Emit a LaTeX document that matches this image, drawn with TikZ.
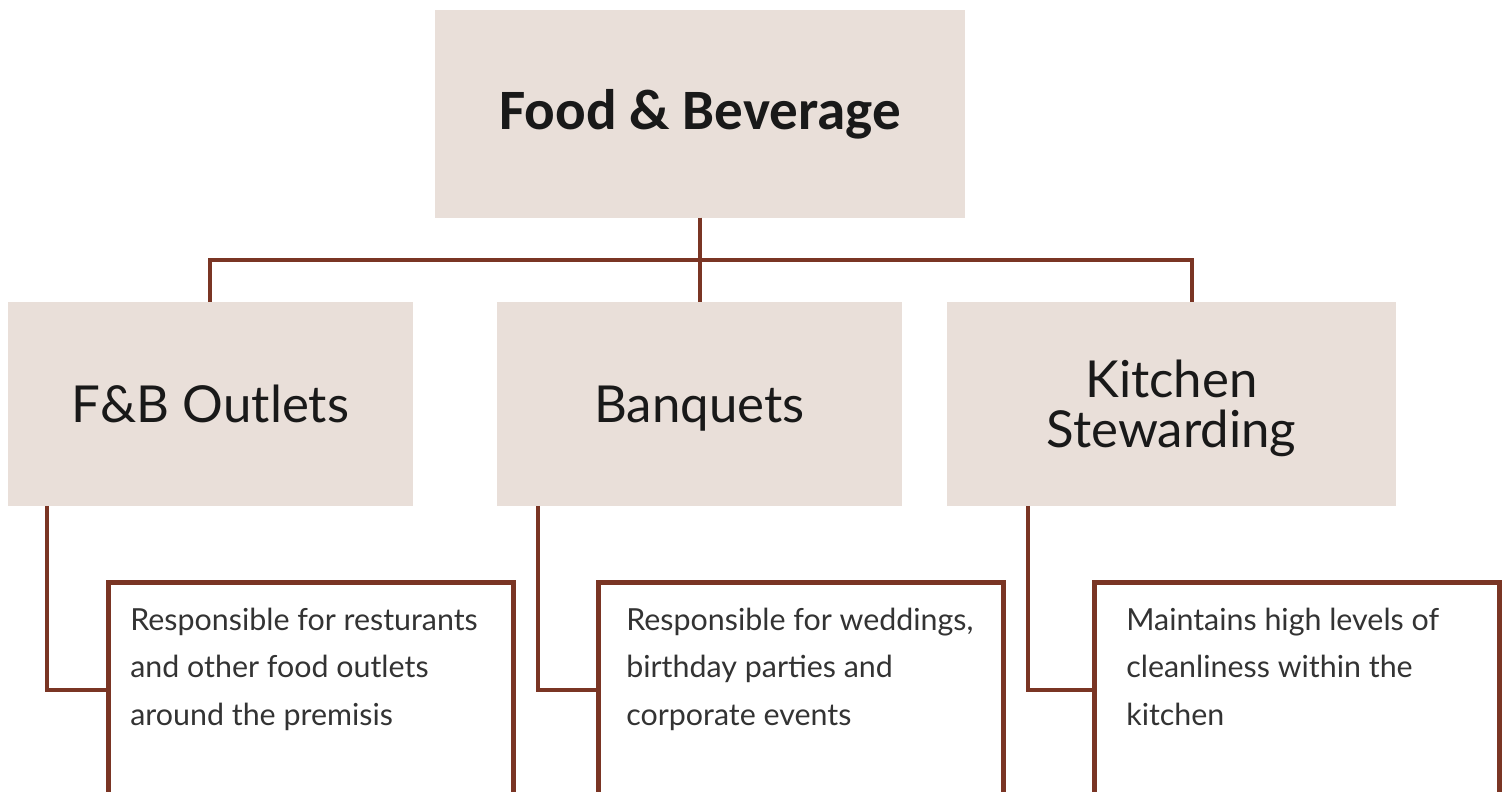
\documentclass[tikz,border=0pt]{standalone}
\usepackage{fontspec}
\setmainfont{Lato}
\newfontfamily\headfont{Carlito}
\tikzset{>=stealth}
\definecolor{sand}{HTML}{E9DFD9}
\definecolor{rust}{HTML}{7A3524}

\begin{document}
\begin{tikzpicture}[x=0.02cm,y=-0.02cm,
    head/.style={fill=sand, anchor=north west, inner sep=0pt, outer sep=0pt, align=center, text=black!90},
    desc/.style={draw=rust, fill=white, line width=0.1cm, anchor=north west, outer sep=0pt, minimum width=8.1cm, minimum height=4.3cm},
    note/.style={anchor=base west, inner sep=0pt, align=left, text=black!80, font=\fontsize{17.3}{27}\selectfont},
    link/.style={draw=rust, line width=0.08cm}]
    \useasboundingbox (0,0) rectangle (1510,791);
    \clip (0,0) rectangle (1510,791);
    \node[head, minimum width=10.6cm, minimum height=4.16cm, font=\headfont\bfseries\fontsize{32.5}{36}\selectfont] (fb) at (435,10) {Food \& Beverage};
    \node[head, minimum width=8.1cm, minimum height=4.08cm, font=\fontsize{29}{28.5}\selectfont] (out) at (8,302) {F\&B Outlets};
    \node[head, minimum width=8.1cm, minimum height=4.08cm, text depth=0pt, font=\fontsize{29}{28.5}\selectfont] (bq) at (497,302) {Banquets};
    \node[head, minimum width=8.98cm, minimum height=4.08cm, text depth=0pt, font=\fontsize{29}{28.5}\selectfont] (kit) at (947,302) {Kitchen\\Stewarding};
    \draw[link] (fb.south) -- ++(0,42) -| (out.north);
    \draw[link] (fb.south) -- (fb.south |- bq.north);
    \draw[link] (fb.south) -- ++(0,42) -| ([xshift=0.41cm]kit.north);
    \node[desc] (outd) at (108.5,582.5) {};
    \node[desc] (bqd) at (598.5,582.5) {};
    \node[desc] (kitd) at (1094.5,582.5) {};
    \draw[link] ([xshift=0.78cm]out.south west) |- (outd.west);
    \draw[link] ([xshift=0.82cm]bq.south west) |- (bqd.west);
    \draw[link] ([xshift=1.62cm]kit.south west) |- (kitd.west);
    \node[note] (outt) at ([shift={(21.5,142.5)}]outd.north west) {Responsible for resturants\\and other food outlets\\around the premisis};
    \node[note] (bqt) at ([shift={(27.5,142.5)}]bqd.north west) {Responsible for weddings,\\birthday parties and\\corporate events};
    \node[note] (kitt) at ([shift={(31.5,142.5)}]kitd.north west) {Maintains high levels of\\cleanliness within the\\kitchen};
\end{tikzpicture}
\end{document}
